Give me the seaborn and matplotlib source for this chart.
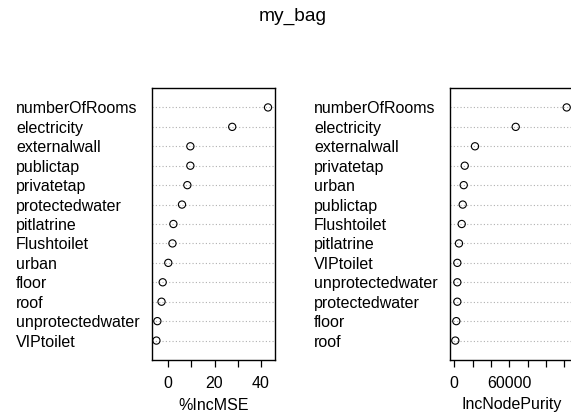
import numpy as np
import pandas as pd
import matplotlib
matplotlib.use("Agg")
import matplotlib.pyplot as plt
import seaborn as sns

sns.set_style("ticks")
plt.rcParams["font.family"] = ["Liberation Sans", "DejaVu Sans"]
plt.rcParams["text.color"] = "black"
plt.rcParams["axes.labelcolor"] = "black"
plt.rcParams["xtick.color"] = "black"
plt.rcParams["ytick.color"] = "black"

# 左图：%IncMSE（自上而下）
mse_vars = ["numberOfRooms", "electricity", "externalwall", "publictap", "privatetap",
            "protectedwater", "pitlatrine", "Flushtoilet", "urban", "floor", "roof",
            "unprotectedwater", "VIPtoilet"]
mse_vals = [43.0, 27.6, 9.6, 9.6, 8.3, 6.0, 2.3, 1.9, 0.1, -2.3, -2.8, -4.6, -5.0]

# 右图：IncNodePurity（自上而下）
purity_vars = ["numberOfRooms", "electricity", "externalwall", "privatetap", "urban",
               "publictap", "Flushtoilet", "pitlatrine", "VIPtoilet", "unprotectedwater",
               "protectedwater", "floor", "roof"]
purity_vals = [122800, 67100, 22600, 11400, 10300, 9200, 8100, 5100, 3300, 3300, 3300,
               2200, 1100]

mse_ticks = [0, 10, 20, 30, 40]
mse_ticklabels = ["0", "", "20", "", "40"]
purity_ticks = [0, 20000, 40000, 60000, 80000, 100000, 120000]
purity_ticklabels = ["0", "", "", "60000", "", "", ""]

W, H = 571, 413
fig = plt.figure(figsize=(W / 100, H / 100), dpi=100)


def panel(rect, names, vals, xlim, ticks, ticklabels, xlabel):
    ax = fig.add_axes(rect)
    df = pd.DataFrame({"var": names, "val": vals})
    sns.stripplot(data=df, x="val", y="var", order=names, jitter=False, size=5.2,
                  color="white", edgecolor="black", linewidth=0.8, ax=ax, zorder=3)
    for c in ax.collections:
        c.set_facecolor("none")
        c.set_edgecolor("black")
    ax.set_ylim(len(names), -1)
    ax.set_xlim(*xlim)
    ax.grid(axis="y", linestyle=(0, (1, 2)), color="#b0b0b0", linewidth=0.8)
    ax.set_xticks(ticks)
    ax.set_xticklabels(ticklabels, fontsize=11.5)
    ax.tick_params(axis="x", direction="out", length=4.7, width=0.9, pad=7, color="black")
    ax.tick_params(axis="y", length=0, pad=97.8, labelsize=11.5)
    for lab in ax.get_yticklabels():
        lab.set_horizontalalignment("left")
    ax.set_ylabel("")
    ax.set_xlabel(xlabel, fontsize=11.5, labelpad=4.5)
    for s in ax.spines.values():
        s.set_visible(True)
        s.set_color("black")
        s.set_linewidth(1.0)
    return ax


bottom = (H - 360) / H
height = 272 / H
panel([152 / W, bottom, 123 / W, height], mse_vars, mse_vals, (-6.9, 46.0),
      mse_ticks, mse_ticklabels, "%IncMSE")
panel([450 / W, bottom, 123 / W, height], purity_vars, purity_vals, (-4700, 129700),
      purity_ticks, purity_ticklabels, "IncNodePurity")

fig.text(292.5 / W, 1 - 16 / H, "my_bag", ha="center", va="center", fontsize=13.8)

fig.savefig("out.png", dpi=100)
